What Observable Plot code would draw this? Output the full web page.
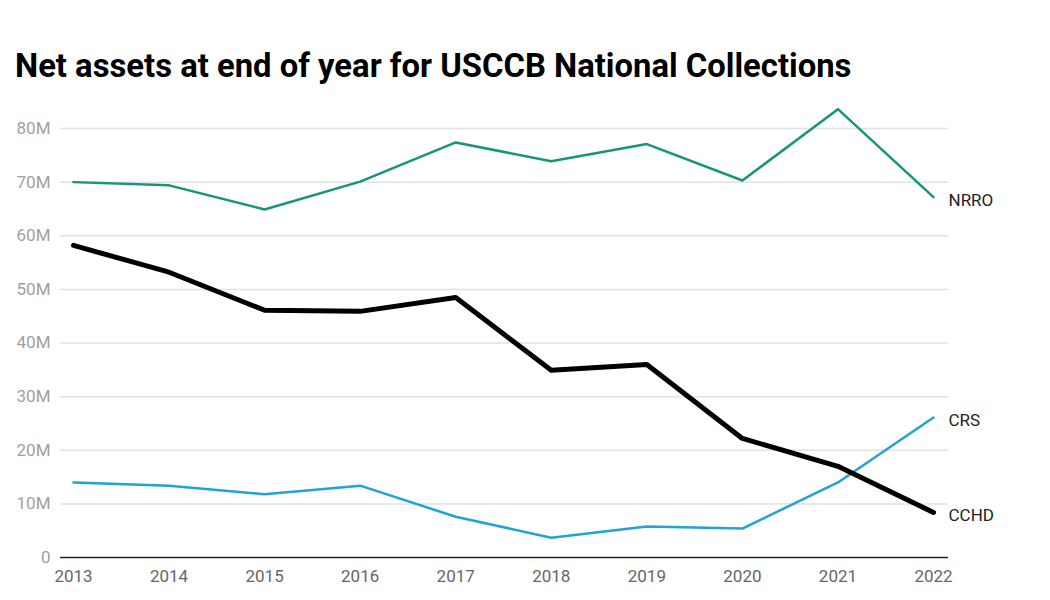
<!DOCTYPE html>
<html>
<head>
<meta charset="utf-8">
<script src="https://cdn.jsdelivr.net/npm/d3@7"></script>
<script src="https://cdn.jsdelivr.net/npm/@observablehq/plot@0.6"></script>
<style>
  body { margin: 0; background: #fff; font-family: Roboto, sans-serif; }
  #title { position: absolute; left: 15px; top: 47px; font-family: Roboto, sans-serif; font-weight: 700; font-size: 32.8px; color: #000; white-space: nowrap; }
  #chart { position: absolute; left: 0; top: 95px; }
</style>
</head>
<body>
<div id="title">Net assets at end of year for USCCB National Collections</div>
<div id="chart"></div>
<script>
const years = [2013, 2014, 2015, 2016, 2017, 2018, 2019, 2020, 2021, 2022];
const nrro = [70.0, 69.4, 64.9, 70.1, 77.4, 73.9, 77.1, 70.3, 83.6, 67.2];
const cchd = [58.2, 53.2, 46.1, 45.9, 48.5, 34.9, 36.0, 22.2, 17.0, 8.4];
const crs  = [14.0, 13.4, 11.8, 13.4, 7.6, 3.7, 5.8, 5.4, 14.0, 26.1];
const seriesNames = ["NRRO", "CRS", "CCHD"];
const seriesColors = ["#15967a", "#21a3d6", "#000000"];
const seriesWidths = [2.5, 2.5, 5];
const yTicks = [0, 10, 20, 30, 40, 50, 60, 70, 80];

const seriesVals = {NRRO: nrro, CRS: crs, CCHD: cchd};
const rows = [];
for (const s of seriesNames) {
  years.forEach((y, i) => rows.push({series: s, year: y, value: seriesVals[s][i] * 1e6}));
}
const last = rows.filter(d => d.year === years[years.length - 1]);

const marks = [
  Plot.ruleY(yTicks.filter(t => t > 0).map(t => t * 1e6), {stroke: "#e2e2e2", strokeWidth: 1.5}),
  Plot.ruleY([0], {stroke: "#222", strokeWidth: 1.5}),
];
seriesNames.forEach((s, i) => {
  marks.push(Plot.line(rows.filter(d => d.series === s), {
    x: "year", y: "value", stroke: seriesColors[i], strokeWidth: seriesWidths[i],
    strokeLinejoin: "round", strokeLinecap: "round"
  }));
});
marks.push(Plot.text(last, {
  x: "year", y: "value", text: "series", textAnchor: "start", dx: 15, dy: 3,
  fill: "#222", fontSize: 17, fontFamily: "Roboto, sans-serif"
}));

const chart = Plot.plot({
  width: 1050,
  height: 505,
  marginTop: 33,
  marginBottom: 43,
  marginLeft: 60,
  marginRight: 102,
  style: {fontFamily: "Roboto, sans-serif", background: "#fff"},
  x: {
    type: "linear",
    domain: [2012.864, 2022.157],
    ticks: years,
    tickFormat: d => String(d),
    tickSize: 0,
    tickPadding: 12,
    label: null
  },
  y: {
    domain: [0, 80e6],
    ticks: yTicks.map(t => t * 1e6),
    tickFormat: d => d === 0 ? "0" : (d / 1e6) + "M",
    tickSize: 0,
    tickPadding: 10,
    label: null
  },
  marks
});

d3.select(chart).selectAll("g[aria-label='x-axis tick label']").attr("fill", "#666").attr("font-size", "17px");
d3.select(chart).selectAll("g[aria-label='y-axis tick label']").attr("fill", "#a0a0a0").attr("font-size", "17px");
document.getElementById("chart").appendChild(chart);
</script>
</body>
</html>
